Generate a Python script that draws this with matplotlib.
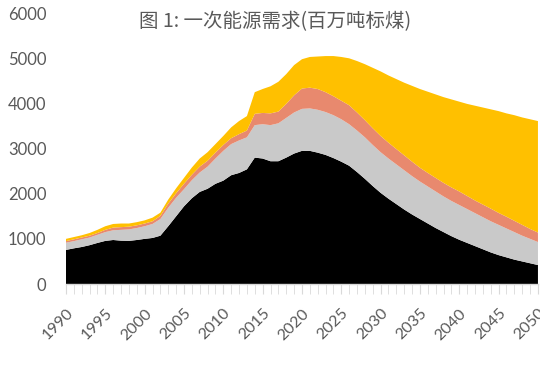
import numpy as np
import matplotlib.pyplot as plt
from matplotlib.ticker import MultipleLocator

plt.rcParams['font.family'] = ['Lato', 'DejaVu Sans']

years = np.arange(1990, 2051)

coal = [755, 790, 820, 860, 910, 955, 975, 960, 955, 975,
        1000, 1020, 1070, 1280, 1500, 1720, 1900, 2040, 2110, 2220,
        2290, 2410, 2460, 2540, 2800, 2780, 2720, 2720, 2800, 2890,
        2950, 2950, 2910, 2860, 2790, 2710, 2620, 2480, 2330, 2170,
        2020, 1890, 1770, 1650, 1540, 1440, 1340, 1240, 1150, 1060,
        980, 910, 840, 770, 700, 640, 590, 540, 500, 460,
        420]
oil = [160, 160, 170, 170, 180, 195, 215, 240, 255, 265,
       280, 310, 370, 410, 410, 380, 400, 430, 490, 560,
       660, 690, 720, 710, 720, 760, 800, 840, 880, 910,
       930, 940, 950, 950, 950, 940, 920, 920, 920, 910,
       900, 890, 880, 870, 850, 830, 820, 810, 790, 780,
       770, 750, 730, 710, 690, 670, 640, 610, 570, 540,
       510]
gas = [35, 40, 40, 40, 40, 50, 60, 60, 60, 60,
       60, 60, 70, 90, 100, 120, 120, 130, 130, 130,
       130, 130, 140, 150, 250, 250, 260, 260, 310, 380,
       450, 460, 460, 440, 420, 410, 420, 400, 380, 370,
       360, 350, 340, 330, 320, 305, 300, 300, 300, 300,
       300, 290, 280, 280, 280, 265, 260, 250, 240, 220,
       210]
non_fossil = [50, 50, 50, 60, 70, 80, 80, 80, 70, 70,
              70, 80, 70, 90, 110, 130, 160, 180, 190, 190,
              200, 240, 290, 320, 480, 530, 600, 660, 660, 670,
              650, 680, 720, 800, 890, 970, 1040, 1140, 1240, 1340,
              1430, 1490, 1550, 1610, 1680, 1745, 1800, 1850, 1900, 1950,
              1990, 2040, 2100, 2150, 2200, 2255, 2290, 2340, 2380, 2430,
              2470]

colors = ['#000000', '#C9C9C9', '#E8896E', '#FFC000']
tick_color = '#595959'

fig = plt.figure(figsize=(5.4, 3.65), dpi=100)
ax = fig.add_axes([0.1222, 0.2219, 0.874, 0.742])

ax.stackplot(years, coal, oil, gas, non_fossil, colors=colors, linewidth=0)

ax.set_xlim(1990, 2050)
ax.set_ylim(0, 6000)
ax.xaxis.set_major_locator(MultipleLocator(5))
ax.xaxis.set_minor_locator(MultipleLocator(1))
ax.yaxis.set_major_locator(MultipleLocator(1000))

for s in ['top', 'right', 'left']:
    ax.spines[s].set_visible(False)
ax.spines['bottom'].set_color('#D9D9D9')
ax.spines['bottom'].set_linewidth(1.0)

ax.tick_params(axis='y', length=0, pad=14, labelsize=12, labelcolor=tick_color)
ax.tick_params(axis='x', which='both', length=7, color='#D9D9D9', direction='out',
               labelsize=11.5, labelcolor=tick_color, pad=9)
plt.setp(ax.get_xticklabels(), rotation=45, ha='right', rotation_mode='anchor')

fig.text(275 / 540, 1 - 22 / 365, '图 1: 一次能源需求(百万吨标煤)',
         family=['Noto Sans CJK SC', 'DejaVu Sans'], fontsize=14,
         color=tick_color, ha='center', va='center')

fig.savefig('out.png', dpi=100)
